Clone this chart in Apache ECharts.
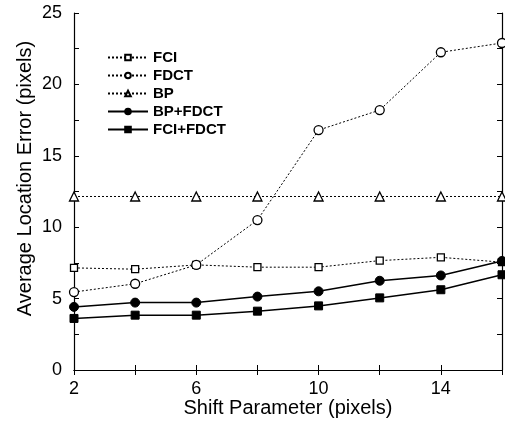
<!DOCTYPE html>
<html>
<head>
<meta charset="utf-8">
<script src="https://cdn.jsdelivr.net/npm/echarts@6/dist/echarts.min.js"></script>
<style>
  html, body { margin: 0; padding: 0; background: #fff; }
  #chart { width: 505px; height: 423px; }
</style>
</head>
<body>
<div id="chart"></div>
<script>
// shift parameter values (x)
const shifts = [2, 4, 6, 8, 10, 12, 14, 16];
// average location error per method (pixels)
const fci      = [7.15, 7.06, 7.36, 7.2, 7.2, 7.66, 7.89, 7.55];
const fdct     = [5.46, 6.04, 7.36, 10.5, 16.8, 18.2, 22.25, 22.9];
const bp       = [12.15, 12.15, 12.15, 12.15, 12.15, 12.15, 12.15, 12.15];
const bpFdct   = [4.42, 4.72, 4.72, 5.14, 5.51, 6.25, 6.62, 7.64];
const fciFdct  = [3.61, 3.84, 3.84, 4.12, 4.49, 5.05, 5.62, 6.67];
const xLabels = [2, 6, 10, 14];
const yLabels = [0, 5, 10, 15, 20, 25];

const pair = arr => shifts.map((x, i) => [x, arr[i]]);
const font = 'Liberation Sans, Arial, Helvetica, sans-serif';

function dotted(name, data, symbol, size) {
  return {
    name: name, type: 'line', data: pair(data),
    symbol: symbol, symbolSize: size,
    lineStyle: { color: '#000', width: 1, type: [2, 2] },
    itemStyle: { color: '#fff', borderColor: '#000', borderWidth: 1.3 },
    emphasis: { disabled: true }
  };
}
function solid(name, data, symbol, size) {
  return {
    name: name, type: 'line', data: pair(data),
    symbol: symbol, symbolSize: size,
    lineStyle: { color: '#000', width: 1.5 },
    itemStyle: { color: '#000', borderColor: '#000', borderWidth: 1 },
    emphasis: { disabled: true }
  };
}

const axisLineStyle = { show: true, lineStyle: { color: '#000', width: 1.2 } };
const tickStyle = { show: true, inside: true, length: 5, lineStyle: { color: '#000' } };

let myChart = echarts.init(document.getElementById('chart'));
myChart.setOption({
  animation: false,
  grid: { left: 74, right: 2, top: 13, bottom: 52 },
  legend: {
    orient: 'vertical', left: 102, top: 45,
    itemWidth: 40, itemHeight: 7, itemGap: 3,
    textStyle: { fontFamily: font, fontSize: 15, fontWeight: 'bold', color: '#000' },
    data: ['FCI', 'FDCT', 'BP', 'BP+FDCT', 'FCI+FDCT']
  },
  xAxis: [{
    type: 'value', min: 2, max: 16, interval: 2,
    name: 'Shift Parameter (pixels)', nameLocation: 'middle', nameGap: 28,
    nameMoveOverlap: false,
    nameTextStyle: { fontFamily: font, fontSize: 20, color: '#000' },
    axisLine: axisLineStyle, axisTick: tickStyle, splitLine: { show: false },
    axisLabel: {
      fontFamily: font, fontSize: 18, color: '#000', margin: 10,
      formatter: v => xLabels.includes(v) ? String(v) : ''
    }
  }, {
    type: 'value', position: 'top', min: 2, max: 16, interval: 2,
    axisLine: axisLineStyle, axisTick: tickStyle, splitLine: { show: false },
    axisLabel: { show: false }
  }],
  yAxis: [{
    type: 'value', min: 0, max: 25, interval: 2.5,
    name: 'Average Location Error (pixels)', nameLocation: 'middle', nameGap: 39,
    nameMoveOverlap: false,
    nameTextStyle: { fontFamily: font, fontSize: 20, color: '#000', padding: [0, 0, 0, 26] },
    axisLine: axisLineStyle, axisTick: tickStyle, splitLine: { show: false },
    axisLabel: {
      fontFamily: font, fontSize: 18, color: '#000', margin: 12,
      formatter: v => yLabels.includes(v) ? String(v) : ''
    }
  }, {
    type: 'value', position: 'right', min: 0, max: 25, interval: 2.5,
    axisLine: axisLineStyle, axisTick: tickStyle, splitLine: { show: false },
    axisLabel: { show: false }
  }],
  series: [
    dotted('FCI', fci, 'rect', 7),
    dotted('FDCT', fdct, 'circle', 9),
    dotted('BP', bp, 'triangle', 9),
    solid('BP+FDCT', bpFdct, 'circle', 9),
    solid('FCI+FDCT', fciFdct, 'rect', 8)
  ]
});
window.addEventListener('resize', function () { myChart.resize(); });
</script>
</body>
</html>
